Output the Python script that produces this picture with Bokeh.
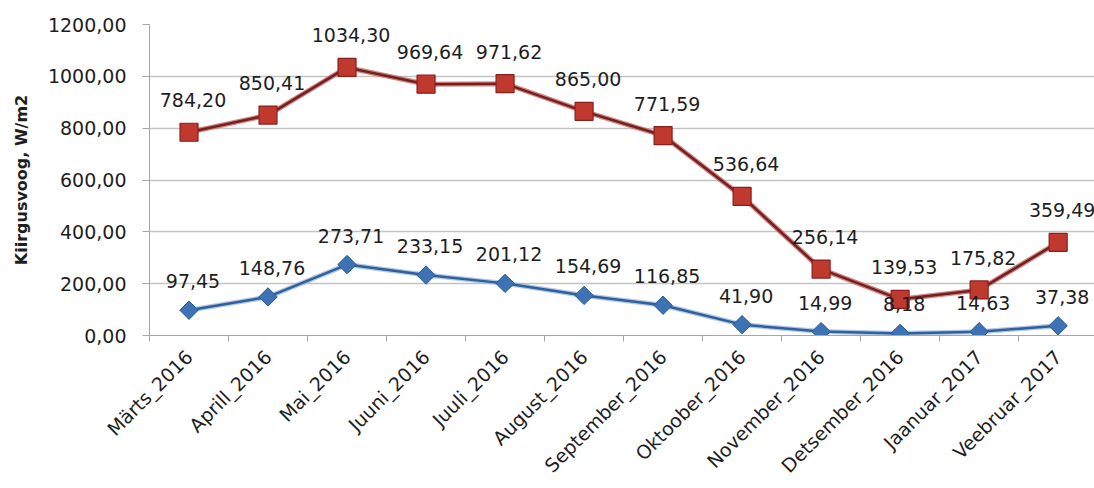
import math
from bokeh.plotting import figure
from bokeh.models import Range1d, FixedTicker, ColumnDataSource
from bokeh.embed import file_html
from bokeh.resources import INLINE
from bokeh.core.properties import value

months = ["Märts_2016", "Aprill_2016", "Mai_2016", "Juuni_2016", "Juuli_2016",
          "August_2016", "September_2016", "Oktoober_2016", "November_2016",
          "Detsember_2016", "Jaanuar_2017", "Veebruar_2017"]
red_vals = [784.20, 850.41, 1034.30, 969.64, 971.62, 865.00, 771.59, 536.64,
            256.14, 139.53, 175.82, 359.49]
blue_vals = [97.45, 148.76, 273.71, 233.15, 201.12, 154.69, 116.85, 41.90,
             14.99, 8.18, 14.63, 37.38]
y_ticks = [0, 200, 400, 600, 800, 1000, 1200]
y_title = "Kiirgusvoog, W/m2"


def fmt(v):
    return f"{v:.2f}".replace(".", ",")


xs = list(range(len(months)))
FONT = "DejaVu Sans"
TXT = "#1e1e1e"

p = figure(width=1094, height=488, output_backend="svg", toolbar_location=None,
           x_range=Range1d(-0.5, 11.46), y_range=Range1d(0, 1200),
           min_border_left=149, min_border_right=0, min_border_top=24,
           min_border_bottom=153)
p.outline_line_color = None
p.background_fill_color = "white"
p.border_fill_color = "white"

# y axis
p.yaxis.ticker = FixedTicker(ticks=y_ticks)
p.yaxis.major_label_overrides = {t: fmt(t) for t in y_ticks}
p.yaxis.major_tick_out = 7
p.yaxis.major_tick_in = 0
p.yaxis.minor_tick_out = 0
p.yaxis.minor_tick_in = 0
p.yaxis.major_tick_line_color = "#a6a6a6"
p.yaxis.axis_line_color = "#a6a6a6"
p.yaxis.major_label_text_font = FONT
p.yaxis.major_label_text_font_size = "19px"
p.yaxis.major_label_text_color = TXT
p.yaxis.major_label_standoff = 16
p.yaxis.axis_label = y_title
p.yaxis.axis_label_text_font = FONT
p.yaxis.axis_label_text_font_size = "16px"
p.yaxis.axis_label_text_font_style = "bold"
p.yaxis.axis_label_text_color = TXT
p.yaxis.axis_label_standoff = 14

# x axis
p.xaxis.ticker = FixedTicker(ticks=xs, minor_ticks=[i - 0.5 for i in range(len(months) + 1)])
p.xaxis.major_label_overrides = {i: m for i, m in enumerate(months)}
p.xaxis.major_label_orientation = math.pi / 4
p.xaxis.major_tick_out = 0
p.xaxis.major_tick_in = 0
p.xaxis.minor_tick_out = 6
p.xaxis.minor_tick_in = 0
p.xaxis.minor_tick_line_color = "#a6a6a6"
p.xaxis.axis_line_color = "#a6a6a6"
p.xaxis.major_label_text_font = FONT
p.xaxis.major_label_text_font_size = "19px"
p.xaxis.major_label_text_color = TXT
p.xaxis.major_label_standoff = 12

p.xgrid.visible = False
p.ygrid.ticker = FixedTicker(ticks=y_ticks)
p.ygrid.grid_line_color = "#c4c4c4"
p.ygrid.grid_line_width = 1.5

red_src = ColumnDataSource(dict(x=xs, y=red_vals, t=[fmt(v) for v in red_vals]))
blue_src = ColumnDataSource(dict(x=xs, y=blue_vals, t=[fmt(v) for v in blue_vals]))

# blue series
p.line("x", "y", source=blue_src, line_color="#8fb1da", line_width=5, line_alpha=0.7)
p.line("x", "y", source=blue_src, line_color="#2f609c", line_width=2.5)
p.scatter("x", "y", source=blue_src, marker="square", angle=math.pi / 4, size=13,
          fill_color="#3d72b4", line_color="#2a5a94", line_width=1)

# red series
p.line("x", "y", source=red_src, line_color="#d0605c", line_width=5, line_alpha=0.8)
p.line("x", "y", source=red_src, line_color="#6f2222", line_width=2.5)
p.scatter("x", "y", source=red_src, marker="square", size=18,
          fill_color="#c0392f", line_color="#8a1f1c", line_width=1.2)

# data labels
p.text("x", "y", text="t", source=blue_src, x_offset=4, y_offset=-29,
       text_align="center", text_baseline="middle",
       text_font=value(FONT), text_font_size="19px", text_color=TXT)
p.text("x", "y", text="t", source=red_src, x_offset=4, y_offset=-32,
       text_align="center", text_baseline="middle",
       text_font=value(FONT), text_font_size="19px", text_color=TXT)

open("out.html", "w").write(file_html(p, INLINE))
